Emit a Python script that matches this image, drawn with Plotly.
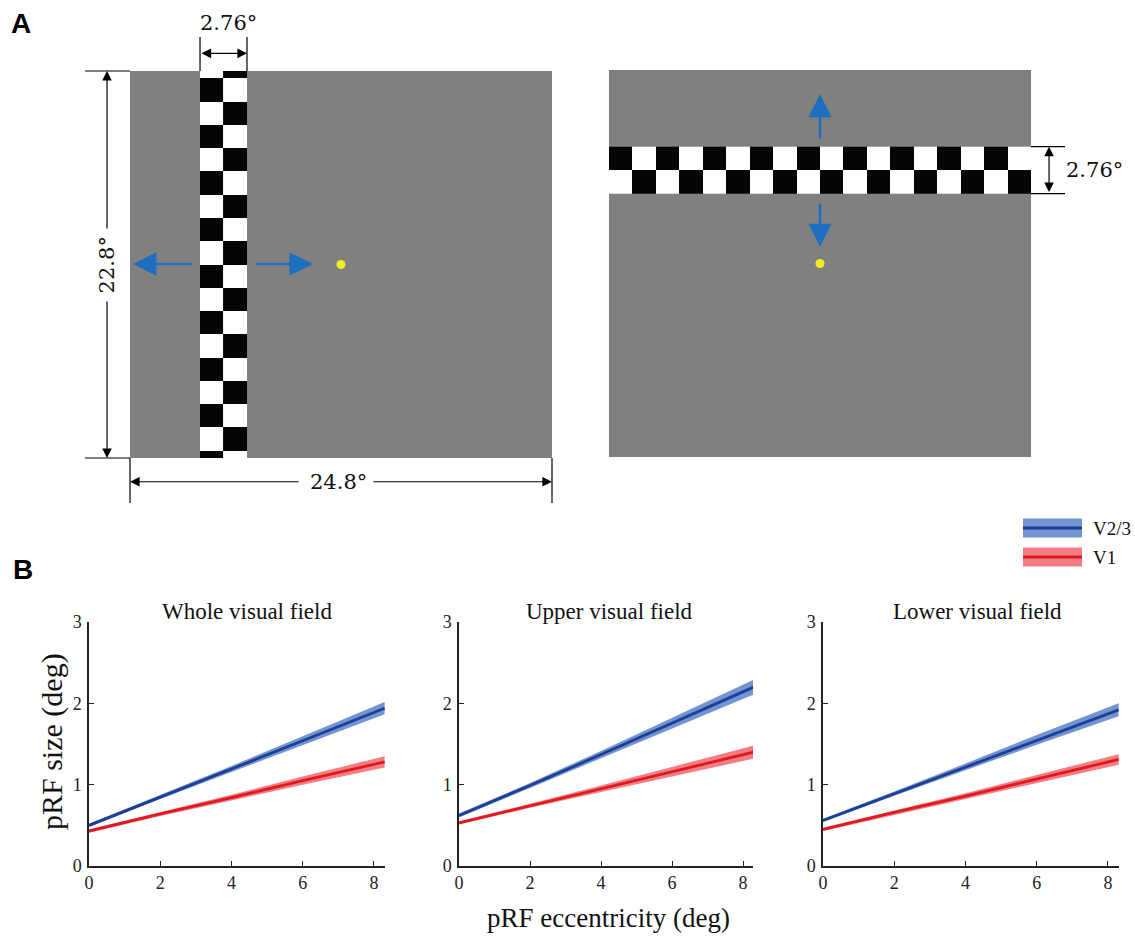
import plotly.graph_objects as go

W, H = 1135, 938

# ---------------- data: panel B ----------------
ecc = [0, 2, 4, 6, 8.3]
panel_titles = ["Whole visual field", "Upper visual field", "Lower visual field"]
v23_mean = {
    "Whole visual field": [0.50, 0.85, 1.19, 1.54, 1.94],
    "Upper visual field": [0.62, 0.99, 1.37, 1.76, 2.20],
    "Lower visual field": [0.56, 0.89, 1.22, 1.55, 1.92],
}
v23_ci = {
    "Whole visual field": [0.02, 0.025, 0.04, 0.055, 0.075],
    "Upper visual field": [0.025, 0.03, 0.045, 0.065, 0.09],
    "Lower visual field": [0.02, 0.025, 0.04, 0.06, 0.08],
}
v1_mean = {
    "Whole visual field": [0.43, 0.64, 0.84, 1.05, 1.28],
    "Upper visual field": [0.53, 0.74, 0.95, 1.16, 1.40],
    "Lower visual field": [0.45, 0.66, 0.86, 1.07, 1.31],
}
v1_ci = {
    "Whole visual field": [0.02, 0.025, 0.035, 0.05, 0.07],
    "Upper visual field": [0.02, 0.025, 0.04, 0.055, 0.08],
    "Lower visual field": [0.02, 0.025, 0.035, 0.05, 0.065],
}
x_ticks = [0, 2, 4, 6, 8]
y_ticks = [0, 1, 2, 3]
x_max = [8.31, 8.28, 8.31]

# ---------------- data: panel A (degrees of visual angle) ----------------
screen_w = 24.8
screen_h = 22.8
bar_w = 2.76
check = 1.37             # checker square size (deg)
bar_v_center = -6.905    # vertical bar x-centre (left stimulus)
bar_h_center = 5.5       # horizontal bar y-centre (right stimulus)

SERIF = "Liberation Serif"
DIMFONT = "DejaVu Serif"
BLUE_LINE = "#1c3f94"
BLUE_BAND = "rgba(80,120,200,0.80)"
RED_LINE = "#e0191f"
RED_BAND = "rgba(238,90,98,0.78)"
ARROW_BLUE = "#1f6fc0"
GRAY = "#808080"
AXC = "#222222"


def px(xp):
    return xp / W


def py(yp):
    return 1 - yp / H


fig = go.Figure()

# ---------------- panel B ----------------
x_domains = [[89 / W, 385 / W], [459 / W, 753 / W], [823 / W, 1119 / W]]
y_domain = [1 - 866 / H, 1 - 622 / H]
layout = dict(width=W, height=H, margin=dict(l=0, r=0, t=0, b=0, pad=0, autoexpand=False),
              paper_bgcolor="white", plot_bgcolor="rgba(0,0,0,0)",
              showlegend=False, hovermode=False)

for i, name in enumerate(panel_titles):
    xa = "x" if i == 0 else f"x{i+1}"
    ya = "y" if i == 0 else f"y{i+1}"
    for mean, ci, band, line in [(v1_mean[name], v1_ci[name], RED_BAND, RED_LINE),
                                 (v23_mean[name], v23_ci[name], BLUE_BAND, BLUE_LINE)]:
        up = [m + c for m, c in zip(mean, ci)]
        lo = [m - c for m, c in zip(mean, ci)]
        fig.add_trace(go.Scatter(x=ecc + ecc[::-1], y=up + lo[::-1], fill="toself",
                                 fillcolor=band, line=dict(width=0), mode="lines",
                                 xaxis=xa, yaxis=ya))
        fig.add_trace(go.Scatter(x=ecc, y=mean, mode="lines",
                                 line=dict(color=line, width=2.8),
                                 xaxis=xa, yaxis=ya))
    k = "" if i == 0 else str(i + 1)
    layout["xaxis" + k] = dict(domain=x_domains[i], range=[0, x_max[i]], anchor="y" + k,
                               tickvals=x_ticks, ticks="inside", ticklen=5, tickwidth=1.3,
                               tickcolor=AXC, showline=True, linecolor=AXC, linewidth=1.5,
                               showgrid=False, zeroline=False, automargin=False,
                               tickfont=dict(family=SERIF, size=18, color=AXC))
    layout["yaxis" + k] = dict(domain=y_domain, range=[0, 3], anchor="x" + k,
                               tickvals=y_ticks, ticks="inside", ticklen=5, tickwidth=1.3,
                               tickcolor=AXC, showline=True, linecolor=AXC, linewidth=1.5,
                               showgrid=False, zeroline=False, ticklabelstandoff=2,
                               automargin=False,
                               tickfont=dict(family=SERIF, size=18, color=AXC))

# ---------------- panel A axes ----------------
sx = 422 / screen_w
sy = 387 / screen_h
layout["xaxis4"] = dict(domain=[60 / W, 590 / W], range=[(60 - 341) / sx, (590 - 341) / sx],
                        visible=False, anchor="y4", automargin=False)
layout["yaxis4"] = dict(domain=[1 - 520 / H, 1], range=[(264.5 - 520) / sy, 264.5 / sy],
                        visible=False, anchor="x4", automargin=False)
layout["xaxis5"] = dict(domain=[590 / W, 1], range=[(590 - 820) / sx, (1135 - 820) / sx],
                        visible=False, anchor="y5", automargin=False)
layout["yaxis5"] = dict(domain=[1 - 520 / H, 1], range=[(263.5 - 520) / sy, 263.5 / sy],
                        visible=False, anchor="x5", automargin=False)

hw, hh = screen_w / 2, screen_h / 2
shapes = []
annotations = []
for xr, yr in [("x4", "y4"), ("x5", "y5")]:
    shapes.append(dict(type="rect", xref=xr, yref=yr, x0=-hw, x1=hw, y0=-hh, y1=hh,
                       fillcolor=GRAY, line=dict(width=0), layer="below"))

# vertical checker bar (left stimulus)
n_half = int(hh // check)
y_edges = [-hh] + [check * k for k in range(-n_half, n_half + 1)] + [hh]
x_edges_v = [bar_v_center - bar_w / 2, bar_v_center, bar_v_center + bar_w / 2]
z_v = [[(r + c) % 2 for c in range(2)] for r in range(len(y_edges) - 1)]
fig.add_trace(go.Heatmap(x=x_edges_v, y=y_edges, z=z_v, zmin=0, zmax=1,
                         colorscale=[[0, "#050505"], [1, "#ffffff"]], showscale=False,
                         xaxis="x4", yaxis="y4", hoverinfo="skip"))

# horizontal checker bar (right stimulus)
n_cols = round(screen_w / (bar_w / 2))
cw = screen_w / n_cols
x_edges_h = [-hw + cw * k for k in range(n_cols + 1)]
y_edges_h = [bar_h_center - bar_w / 2, bar_h_center, bar_h_center + bar_w / 2]
z_h = [[(r + c + 1) % 2 for c in range(n_cols)] for r in range(2)]
fig.add_trace(go.Heatmap(x=x_edges_h, y=y_edges_h, z=z_h, zmin=0, zmax=1,
                         colorscale=[[0, "#050505"], [1, "#ffffff"]], showscale=False,
                         xaxis="x5", yaxis="y5", hoverinfo="skip"))

# fixation dots
for xr, yr in [("x4", "y4"), ("x5", "y5")]:
    fig.add_trace(go.Scatter(x=[0], y=[0], mode="markers",
                             marker=dict(size=9, color="#f3ec25", line=dict(width=0)),
                             xaxis=xr, yaxis=yr))


def arrow(xr, yr, x0, y0, x1, y1, color="black", width=1.2, size=1.6, both=False, head=2):
    annotations.append(dict(xref=xr, yref=yr, axref=xr, ayref=yr, x=x1, y=y1, ax=x0, ay=y0,
                            text="", showarrow=True, arrowhead=head, arrowsize=size,
                            arrowwidth=width, arrowcolor=color,
                            arrowside="end+start" if both else "end",
                            startarrowhead=head, startarrowsize=size, standoff=0, startstandoff=0))


def seg(xr, yr, x0, y0, x1, y1):
    shapes.append(dict(type="line", xref=xr, yref=yr, x0=x0, y0=y0, x1=x1, y1=y1,
                       line=dict(color="black", width=1.2)))


def label(xr, yr, x, y, txt, angle=0):
    annotations.append(dict(xref=xr, yref=yr, x=x, y=y, text=txt, showarrow=False,
                            textangle=angle, font=dict(family=DIMFONT, size=21, color="#111"),
                            xanchor="center", yanchor="middle"))


# blue motion arrows
for (x0, y0, x1, y1, ref) in [(-8.70, 0.03, -12.22, 0.03, 4), (-5.11, 0.03, -1.65, 0.03, 4),
                              (0, 7.28, 0, 9.99, 5), (0, 3.62, 0, 0.97, 5)]:
    arrow(f"x{ref}", f"y{ref}", x0, y0, x1, y1, color=ARROW_BLUE, width=2.6, size=1.8)

# left stimulus dimensions
bl, br = bar_v_center - bar_w / 2, bar_v_center + bar_w / 2
seg("x4", "y4", bl, hh, bl, 13.40)
seg("x4", "y4", br, hh, br, 13.40)
arrow("x4", "y4", bl, 12.44, br, 12.44, both=True)
label("x4", "y4", (bl + br) / 2 + 0.3, 14.23, "2.76°")

seg("x4", "y4", -15.04, hh, -hw, hh)
seg("x4", "y4", -15.04, -hh, -hw, -hh)
arrow("x4", "y4", -13.75, 2.03, -13.75, hh)
arrow("x4", "y4", -13.75, -2.09, -13.75, -hh)
label("x4", "y4", -13.75, -0.05, "22.8°", angle=-90)

seg("x4", "y4", -hw, -hh, -hw, -14.05)
seg("x4", "y4", hw, -hh, hw, -14.05)
arrow("x4", "y4", -2.41, -12.80, -hw, -12.80)
arrow("x4", "y4", 1.82, -12.80, hw, -12.80)
label("x4", "y4", -0.15, -12.80, "24.8°")

# right stimulus dimensions
bb, bt = bar_h_center - bar_w / 2, bar_h_center + bar_w / 2
seg("x5", "y5", hw, bt, 14.40, bt)
seg("x5", "y5", hw, bb, 14.40, bb)
arrow("x5", "y5", 13.46, bb, 13.46, bt, both=True)
label("x5", "y5", 16.16, bar_h_center, "2.76°")

# panel letters
for txt, xp_, yp_ in [("A", 21, 23), ("B", 23, 569)]:
    annotations.append(dict(xref="paper", yref="paper", x=px(xp_), y=py(yp_), text=f"<b>{txt}</b>",
                            showarrow=False, xanchor="center", yanchor="middle",
                            font=dict(family="Liberation Sans", size=28, color="black")))

# subplot titles
for name, xp_ in zip(panel_titles, [247, 609, 977]):
    annotations.append(dict(xref="paper", yref="paper", x=px(xp_), y=py(611), text=name,
                            showarrow=False, xanchor="center", yanchor="middle",
                            font=dict(family=SERIF, size=23, color="#111")))

# axis titles
annotations.append(dict(xref="paper", yref="paper", x=px(52), y=py(742), text="pRF size (deg)",
                        textangle=-90, showarrow=False, xanchor="center", yanchor="middle",
                        font=dict(family=SERIF, size=30, color="#111")))
annotations.append(dict(xref="paper", yref="paper", x=px(608), y=py(918),
                        text="pRF eccentricity (deg)", showarrow=False,
                        xanchor="center", yanchor="middle",
                        font=dict(family=SERIF, size=27, color="#111")))

# legend (drawn)
for (lbl, band, line, yc) in [("V2/3", BLUE_BAND, BLUE_LINE, 528), ("V1", RED_BAND, RED_LINE, 557)]:
    shapes.append(dict(type="rect", xref="paper", yref="paper", x0=px(1023), x1=px(1082),
                       y0=py(yc + 9.5), y1=py(yc - 9.5), fillcolor=band, line=dict(width=0)))
    shapes.append(dict(type="line", xref="paper", yref="paper", x0=px(1023), x1=px(1082),
                       y0=py(yc), y1=py(yc), line=dict(color=line, width=3)))
    annotations.append(dict(xref="paper", yref="paper", x=px(1091), y=py(yc), text=lbl,
                            showarrow=False, xanchor="left", yanchor="middle",
                            font=dict(family=SERIF, size=19, color="#111")))

layout["shapes"] = shapes
layout["annotations"] = annotations
fig.update_layout(**layout)
fig.write_html("out.html", config={"displayModeBar": False},
               post_script="document.body.style.margin='0';document.body.style.overflow='hidden';")
